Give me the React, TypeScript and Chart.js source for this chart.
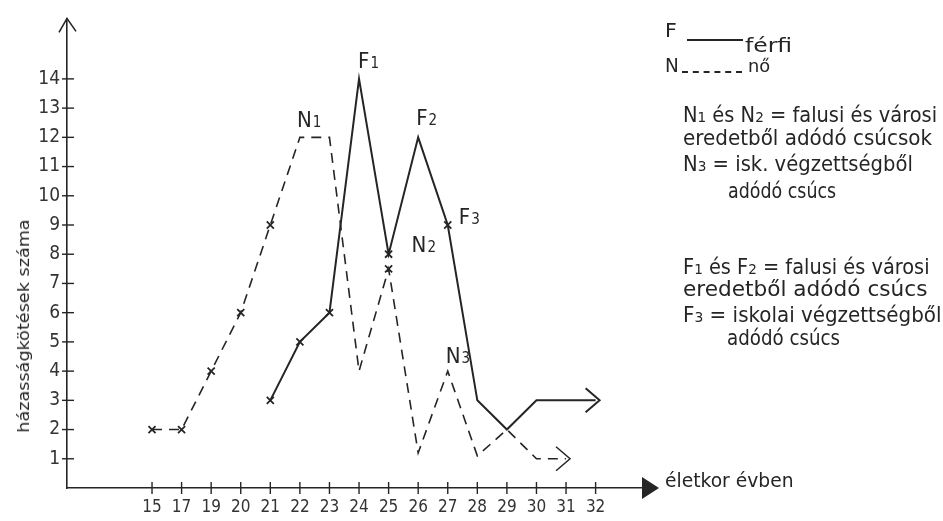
import React, { useEffect, useRef } from "react";
import { Chart, registerables } from "chart.js";

Chart.register(...registerables);

// ---- data ----
const categories = ["15", "17", "19", "20", "21", "22", "23", "24", "25", "26", "27", "28", "29", "30", "31", "32"];
const yTickValues = [1, 2, 3, 4, 5, 6, 7, 8, 9, 10, 11, 12, 13, 14];
const ferfi: (number | null)[] = [null, null, null, null, 3, 5, 6, 14, 8, 12, 9, 3, 2, 3, 3, 3];
const no: (number | null)[] = [2, 2, 4, 6, 9, 12, 12, 4, 7.5, 1.2, 4, 1.1, 2, 1, 1, null];
const ferfiMarked = [4, 5, 6, 8, 10];
const noMarked = [0, 1, 2, 3, 4, 8];

// peak labels: [letter, subscript, series, index, dx, dy]
const peakLabels: [string, string, string, number, number, number][] = [
  ["F", "1", "ferfi", 7, -1, -11],
  ["F", "2", "ferfi", 9, -2, -12],
  ["F", "3", "ferfi", 10, 11, -1],
  ["N", "1", "no", 5, -3, -10],
  ["N", "2", "no", 8, 23, -17],
  ["N", "3", "no", 10, -2, -8],
];

const INK = "#252525";
const FONT = '"DejaVu Sans Condensed", "Liberation Sans Narrow", "DejaVu Sans", sans-serif';

function toPoints(values: (number | null)[], marked: number[]) {
  const pts: { x: number; y: number; m: boolean }[] = [];
  values.forEach((v, i) => {
    if (v !== null) pts.push({ x: i, y: v, m: marked.includes(i) });
  });
  return pts;
}

const overlayPlugin = {
  id: "overlay",
  afterDatasetsDraw(chart: any) {
    const { ctx, chartArea, scales } = chart;
    const { left, right, top, bottom } = chartArea;
    const xs = scales.x;
    const ys = scales.y;
    const line = (a: number, b: number, c: number, d: number) => {
      ctx.beginPath();
      ctx.moveTo(a, b);
      ctx.lineTo(c, d);
      ctx.stroke();
    };
    ctx.save();
    ctx.strokeStyle = INK;
    ctx.fillStyle = INK;
    ctx.lineWidth = 1.4;
    ctx.setLineDash([]);
    // tick marks crossing the axes
    yTickValues.forEach((v) => {
      const py = ys.getPixelForValue(v);
      line(left - 5, py, left + 7, py);
    });
    categories.forEach((_, i) => {
      const px = xs.getPixelForValue(i);
      line(px, bottom - 6, px, bottom + 6);
    });
    // y axis open arrow
    ctx.lineWidth = 1.6;
    ctx.beginPath();
    ctx.moveTo(left - 8, top + 14);
    ctx.lineTo(left, top);
    ctx.lineTo(left + 9, top + 13);
    ctx.stroke();
    // x axis filled arrow
    ctx.beginPath();
    ctx.moveTo(right - 3, bottom - 11);
    ctx.lineTo(right + 14, bottom);
    ctx.lineTo(right - 3, bottom + 11);
    ctx.closePath();
    ctx.fill();
    // end arrows of the series
    chart.data.datasets.forEach((_: any, di: number) => {
      const meta = chart.getDatasetMeta(di);
      const last = meta.data[meta.data.length - 1];
      if (!last) return;
      const tip = last.x + 4;
      ctx.lineWidth = di === 0 ? 2 : 1.5;
      ctx.beginPath();
      ctx.moveTo(tip - 14, last.y - 12);
      ctx.lineTo(tip, last.y);
      ctx.lineTo(tip - 14, last.y + 12);
      ctx.stroke();
    });
    // peak labels
    peakLabels.forEach(([letter, sub, series, idx, dx, dy]) => {
      const vals = series === "ferfi" ? ferfi : no;
      const v = vals[idx];
      if (v === null) return;
      const px = xs.getPixelForValue(idx) + dx;
      const py = ys.getPixelForValue(v) + dy;
      ctx.font = `22px ${FONT}`;
      ctx.textBaseline = "alphabetic";
      ctx.textAlign = "left";
      ctx.fillText(letter, px, py);
      const w = ctx.measureText(letter).width;
      ctx.font = `15px ${FONT}`;
      ctx.fillText(sub, px + w + 1, py);
    });
    ctx.restore();
  },
};

type Txt = { parts: [string, boolean][]; left: number; base: number; size: number; w: number };

const sub = (s: string): [string, boolean][] => {
  // a digit right after F/N is written as a small index
  const out: [string, boolean][] = [];
  let buf = "";
  for (let i = 0; i < s.length; i++) {
    const ch = s[i];
    if (/[0-9]/.test(ch) && i > 0 && /[FN]/.test(s[i - 1])) {
      if (buf) out.push([buf, false]);
      buf = "";
      out.push([ch, true]);
    } else buf += ch;
  }
  if (buf) out.push([buf, false]);
  return out;
};

const notes: Txt[] = [
  { parts: sub("N1 és N2 = falusi és városi"), left: 683, base: 123, size: 21, w: 254 },
  { parts: sub("eredetből adódó csúcsok"), left: 683, base: 146, size: 21, w: 249 },
  { parts: sub("N3 = isk. végzettségből"), left: 683, base: 172, size: 21, w: 230 },
  { parts: sub("adódó csúcs"), left: 728, base: 199, size: 21, w: 108 },
  { parts: sub("F1 és F2 = falusi és városi"), left: 683, base: 275, size: 21, w: 247 },
  { parts: sub("eredetből adódó csúcs"), left: 683, base: 297, size: 21, w: 245 },
  { parts: sub("F3 = iskolai végzettségből"), left: 683, base: 323, size: 21, w: 258 },
  { parts: sub("adódó csúcs"), left: 727, base: 346, size: 21, w: 113 },
  { parts: [["F", false]], left: 665, base: 37, size: 19, w: 12 },
  { parts: [["férfi", false]], left: 745, base: 52, size: 20, w: 47 },
  { parts: [["N", false]], left: 665, base: 72, size: 19, w: 14 },
  { parts: [["nő", false]], left: 748, base: 72, size: 18, w: 22 },
  { parts: [["életkor évben", false]], left: 665, base: 487, size: 19, w: 128 },
];

function TextLine({ t }: { t: Txt }) {
  return (
    <div
      data-w={t.w}
      style={{
        position: "absolute",
        left: t.left,
        top: t.base - 0.85 * t.size,
        fontSize: t.size,
        lineHeight: `${t.size}px`,
        fontFamily: FONT,
        color: INK,
        whiteSpace: "nowrap",
        transformOrigin: "left center",
      }}
    >
      {t.parts.map(([s, isSub], i) =>
        isSub ? (
          <span key={i} style={{ fontSize: "0.7em" }}>
            {s}
          </span>
        ) : (
          <span key={i}>{s}</span>
        )
      )}
    </div>
  );
}

export default function App() {
  const canvasRef = useRef<HTMLCanvasElement | null>(null);
  const boxRef = useRef<HTMLDivElement | null>(null);

  useEffect(() => {
    const canvas = canvasRef.current;
    if (!canvas) return;
    const chart = new Chart(canvas, {
      type: "line",
      data: {
        datasets: [
          {
            label: "férfi",
            data: toPoints(ferfi, ferfiMarked) as any,
            borderColor: INK,
            borderWidth: 2,
            tension: 0,
            pointStyle: "crossRot",
            pointRadius: (c: any) => (c.raw && c.raw.m ? 5 : 0),
            pointBorderColor: INK,
            pointBorderWidth: 1.8,
          },
          {
            label: "nő",
            data: toPoints(no, noMarked) as any,
            borderColor: INK,
            borderWidth: 1.6,
            borderDash: [10, 7],
            tension: 0,
            pointStyle: "crossRot",
            pointRadius: (c: any) => (c.raw && c.raw.m ? 5 : 0),
            pointBorderColor: INK,
            pointBorderWidth: 1.8,
          },
        ],
      },
      options: {
        responsive: false,
        animation: false,
        layout: { padding: { top: 15, right: 298, left: 0, bottom: 0 } },
        plugins: { legend: { display: false }, tooltip: { enabled: false } },
        scales: {
          x: {
            type: "linear",
            min: -2.875,
            max: 16.67,
            grid: { display: false, drawTicks: false },
            border: { display: true, color: INK, width: 1.6 },
            afterBuildTicks: (s: any) => {
              s.ticks = categories.map((_, i) => ({ value: i }));
            },
            afterFit: (s: any) => {
              s.height = 33;
            },
            ticks: {
              autoSkip: false,
              maxRotation: 0,
              padding: 9,
              color: "#333",
              font: { family: FONT, size: 17 },
              callback: (v: any) => categories[v as number] ?? "",
            },
          },
          y: {
            min: 0,
            max: 16.07,
            grid: { display: false, drawTicks: false },
            border: { display: true, color: INK, width: 1.6 },
            afterBuildTicks: (s: any) => {
              s.ticks = yTickValues.map((v) => ({ value: v }));
            },
            afterFit: (s: any) => {
              s.width = 67;
            },
            ticks: {
              padding: 7,
              color: "#333",
              font: { family: FONT, size: 19 },
              callback: (v: any) => String(v),
            },
          },
        },
      },
      plugins: [overlayPlugin],
    });

    // fit hand-lettered text widths
    const box = boxRef.current;
    if (box) {
      box.querySelectorAll<HTMLElement>("[data-w]").forEach((el) => {
        const w = Number(el.dataset.w);
        const ow = el.offsetWidth;
        if (ow > 0) el.style.transform = `scaleX(${w / ow})`;
      });
      const rot = box.querySelector<HTMLElement>("[data-rot]");
      if (rot) {
        const w = Number(rot.dataset.rot);
        const ow = rot.offsetWidth;
        if (ow > 0) rot.style.transform = `translate(-50%, -50%) rotate(-90deg) scaleX(${w / ow})`;
      }
    }
    return () => chart.destroy();
  }, []);

  return (
    <div
      ref={boxRef}
      style={{ position: "absolute", left: 0, top: 0, width: 943, height: 521, background: "#fff", overflow: "hidden" }}
    >
      <canvas ref={canvasRef} width={943} height={521} style={{ position: "absolute", left: 0, top: 0 }} />
      {notes.map((t, i) => (
        <TextLine key={i} t={t} />
      ))}
      {/* legend line samples */}
      <div style={{ position: "absolute", left: 687, top: 39, width: 56, borderTop: `2px solid ${INK}` }} />
      <div style={{ position: "absolute", left: 682, top: 71, width: 60, borderTop: `2px dashed ${INK}` }} />
      <div
        data-rot={213}
        style={{
          position: "absolute",
          left: 24,
          top: 326,
          fontSize: 16,
          lineHeight: "16px",
          fontFamily: FONT,
          color: INK,
          whiteSpace: "nowrap",
          transform: "translate(-50%, -50%) rotate(-90deg)",
        }}
      >
        házasságkötések száma
      </div>
    </div>
  );
}
